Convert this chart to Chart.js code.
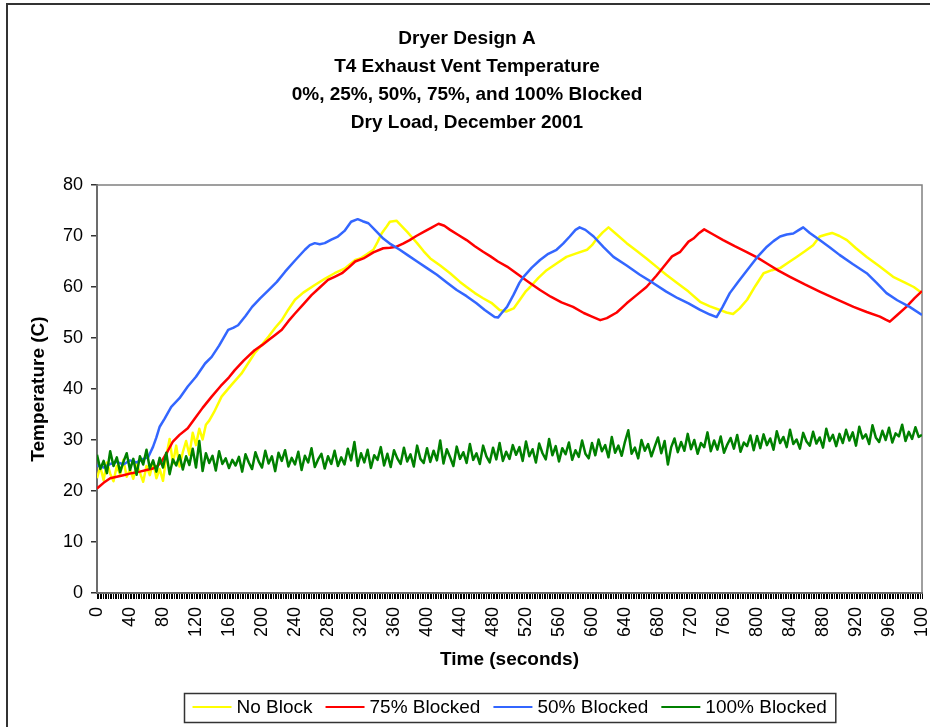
<!DOCTYPE html>
<html><head><meta charset="utf-8">
<script src="https://cdn.jsdelivr.net/npm/chart.js@4"></script>
<style>
html,body{margin:0;padding:0;background:#fff;overflow:hidden;}
#wrap{position:relative;width:930px;height:727px;}
#frame{position:absolute;left:6px;top:3px;width:1000px;height:1000px;border:2px solid #333;box-sizing:border-box;pointer-events:none;}
</style></head><body>
<div id="wrap"><canvas id="c" width="930" height="727"></canvas><div id="frame"></div></div>
<script>
const titleLines = ['Dryer Design A', 'T4 Exhaust Vent Temperature', '0%, 25%, 50%, 75%, and 100% Blocked', 'Dry Load, December 2001'];
const seriesNames = ['No Block', '75% Blocked', '50% Blocked', '100% Blocked'];
const xTickLabels = ['0','40','80','120','160','200','240','280','320','360','400','440','480','520','560','600','640','680','720','760','800','840','880','920','960','100'];

// No Block (yellow)
const timeNoBlock = [0,4,8,12,16,20,24,28,32,36,40,44,48,52,56,60,64,68,72,76,80,84,88,92,96,100,104,108,112,116,120,124,128,132,136,
  142,151,163,175,183,191,200,208,216,224,232,240,250,264,276,288,300,313,319,327,335,340,345,350,355,363,369,376,382,388,396,404,416,428,440,448,458,468,478,488,496,505,513,520,525,535,545,557,569,581,594,600,606,613,620,630,642,654,666,678,690,704,717,731,743,755,763,771,779,788,798,808,818,828,838,848,858,868,876,884,891,900,909,920,933,948,965,980,990,1000];
const tempNoBlock = [22.5,24.8,22.1,25.6,23.4,21.9,24.9,23.2,26.1,22.8,24.2,22.4,25.3,23.6,21.8,24.9,23.1,25.7,22.5,24.3,22.0,26.8,30.2,25.4,28.9,24.8,27.6,29.8,27.1,31.4,29.0,32.2,30.1,33.0,33.8,
  35.5,38.5,40.8,43.0,45.0,47.0,48.7,50.3,52.0,53.5,55.6,57.5,58.9,60.4,61.6,62.7,63.6,65.3,65.6,66.4,67.3,68.8,70.5,71.6,72.8,73.0,72.0,70.8,69.7,68.6,67.0,65.6,64.2,62.7,61.0,60.0,58.8,57.8,56.9,55.5,55.2,55.8,57.6,59.2,60.0,61.8,63.3,64.6,65.9,66.6,67.3,68.2,69.5,70.7,71.7,70.3,68.6,67.1,65.6,64.0,62.4,60.7,59.1,57.1,56.2,55.5,55.0,54.7,55.8,57.5,60.2,62.7,63.3,63.7,64.8,65.9,67.0,68.2,69.9,70.3,70.6,70.0,69.2,67.6,65.9,64.1,62.0,60.8,60.0,58.8];

// 75% Blocked (red)
const time75 = [0,8,16,24,32,42,52,60,68,74,78,85,92,100,110,119,128,139,150,160,167,178,191,200,208,216,224,232,240,250,260,270,280,288,297,305,313,323,335,347,355,363,371,379,387,396,405,414,421,428,438,448,458,468,477,486,497,510,523,537,550,563,577,590,600,610,618,630,642,654,666,678,690,697,707,717,723,730,736,747,759,773,787,800,812,826,840,858,876,896,917,933,949,956,961,970,981,991,1000];
const temp75 = [20.5,21.6,22.5,22.8,23.1,23.5,23.8,24.1,24.4,25.0,25.7,27.6,29.7,31.0,32.3,34.3,36.3,38.5,40.6,42.3,43.7,45.6,47.6,48.6,49.6,50.6,51.6,53.3,54.8,56.6,58.4,59.9,61.4,62.0,62.7,63.8,65.0,65.6,66.8,67.6,67.7,67.9,68.5,69.2,70.0,70.8,71.6,72.4,72.0,71.2,70.2,69.2,68.0,66.9,66.0,65.0,64.0,62.5,61.0,59.4,58.1,57.0,56.1,54.9,54.2,53.5,53.9,55.0,56.8,58.4,60.0,62.2,64.6,66.0,66.9,68.9,69.5,70.6,71.3,70.3,69.2,68.0,66.9,65.8,64.6,63.2,62.0,60.5,59.1,57.6,56.1,55.1,54.2,53.6,53.2,54.5,56.1,57.8,59.2];

// 50% Blocked (blue)
const time50 = [0,8,16,24,32,40,48,56,62,68,72,76,82,90,100,110,120,131,139,148,159,165,171,180,188,198,208,218,228,240,252,258,264,270,276,284,292,300,308,316,322,329,338,347,356,367,377,388,400,412,424,436,448,460,470,482,486,490,497,505,512,517,527,537,547,557,565,573,580,585,592,602,614,626,642,658,674,690,704,717,731,743,751,758,767,777,788,800,812,820,828,836,844,850,856,864,876,888,900,916,933,945,957,970,985,1000];
const temp50 = [25.0,24.6,25.3,25.7,25.2,26.0,25.6,26.3,26.6,28.7,30.5,32.6,34.2,36.5,38.2,40.5,42.4,45.0,46.3,48.5,51.6,52.0,52.5,54.3,56.1,57.8,59.4,61.0,63.0,65.2,67.3,68.2,68.6,68.4,68.6,69.3,69.9,71.0,72.8,73.3,72.9,72.5,71.0,69.5,68.4,67.3,66.2,65.0,63.7,62.4,60.9,59.4,58.2,56.8,55.5,54.1,54.0,54.8,56.1,58.5,60.8,62.0,63.8,65.3,66.5,67.3,68.5,69.9,71.2,71.7,71.2,69.9,67.8,65.9,64.2,62.4,60.8,59.1,57.8,56.8,55.5,54.6,54.1,56.0,58.8,61.0,63.3,65.8,67.9,69.0,69.9,70.3,70.5,71.1,71.7,70.6,69.2,67.8,66.3,64.5,62.7,60.8,58.8,57.4,56.1,54.5];

// 100% Blocked (green)
const time100 = [0,4,8,12,16,20,24,28,32,36,40,44,48,52,56,60,64,68,72,76,80,84,88,92,96,
  100,104,108,112,116,120,124,128,132,136,140,144,148,152,156,160,164,168,172,176,180,184,188,192,196,
  200,204,208,212,216,220,224,228,232,236,240,244,248,252,256,260,264,268,272,276,280,284,288,292,296,
  300,304,308,312,316,320,324,328,332,336,340,344,348,352,356,360,364,368,372,376,380,384,388,392,396,
  400,404,408,412,416,420,424,428,432,436,440,444,448,452,456,460,464,468,472,476,480,484,488,492,496,
  500,504,508,512,516,520,524,528,532,536,540,544,548,552,556,560,564,568,572,576,580,584,588,592,596,
  600,604,608,612,616,620,624,628,632,636,640,644,648,652,656,660,664,668,672,676,680,684,688,692,696,
  700,704,708,712,716,720,724,728,732,736,740,744,748,752,756,760,764,768,772,776,780,784,788,792,796,
  800,804,808,812,816,820,824,828,832,836,840,844,848,852,856,860,864,868,872,876,880,884,888,892,896,
  900,904,908,912,916,920,924,928,932,936,940,944,948,952,956,960,964,968,972,976,980,984,988,992,996,1000];
const temp100 = [27.1,24.3,25.9,23.5,27.8,24.9,26.6,23.7,25.7,27.4,24.1,26.3,23.2,26.8,25.2,28.1,24.4,26.0,23.8,26.5,24.6,27.5,23.3,26.2,25.0,
  27.0,24.2,26.8,25.1,28.3,24.6,29.8,23.9,27.4,25.5,26.9,24.0,27.8,25.3,26.4,24.5,26.1,25.0,26.7,23.8,27.2,25.6,24.3,27.6,25.8,
  24.6,27.9,25.4,26.8,23.9,27.5,25.9,28.0,24.8,26.5,25.2,27.7,24.1,26.9,25.6,28.4,24.7,26.2,27.3,24.4,26.8,25.3,27.9,24.9,26.6,
  25.2,28.3,26.0,29.6,24.9,27.4,25.6,28.1,24.5,27.0,26.1,28.6,25.0,27.3,24.7,28.0,26.4,25.3,28.5,25.8,27.2,24.8,28.9,26.3,25.5,
  28.4,25.7,27.9,26.0,29.9,25.4,28.2,26.6,24.9,28.7,26.3,27.6,25.5,29.2,26.1,27.4,25.3,28.9,26.8,25.6,28.5,26.2,29.4,25.9,27.7,
  26.3,29.0,27.1,28.6,25.9,29.7,26.8,28.2,25.6,29.3,27.4,26.2,30.2,27.0,28.8,25.8,28.4,27.2,29.5,26.1,28.0,26.7,29.9,27.3,26.4,
  29.4,27.0,30.1,27.8,29.0,26.6,30.6,27.5,28.9,26.9,29.7,31.9,27.3,28.5,26.4,30.0,27.9,29.2,26.8,28.7,30.5,27.4,29.8,25.2,28.6,
  30.3,27.6,29.6,27.9,31.2,28.2,30.0,27.3,29.4,28.6,31.5,27.8,29.9,28.1,30.7,27.5,29.1,30.4,28.3,31.0,27.7,29.5,28.8,30.9,28.0,
  30.8,28.4,31.1,29.0,30.3,28.1,31.7,29.4,30.6,28.6,32.0,29.2,30.1,28.3,31.4,29.7,28.9,31.6,29.3,30.5,28.5,32.2,29.8,31.0,28.8,
  31.2,29.4,32.0,29.9,31.5,28.9,32.6,30.3,31.1,29.2,32.9,30.5,29.6,31.8,30.0,32.4,29.5,31.3,30.7,33.0,29.8,31.6,30.2,32.5,30.6,31.0];

const FONT = '"Liberation Sans", Arial, sans-serif';
const pts = (t, v) => t.map((x, i) => ({x: x, y: v[i]}));

const plotFrame = {
  id: 'plotFrame',
  beforeDatasetsDraw(chart) {
    const {ctx, chartArea: a} = chart;
    ctx.save();
    ctx.strokeStyle = '#808080';
    ctx.lineWidth = 1.5;
    ctx.strokeRect(a.left, a.top, a.right - a.left, a.bottom - a.top);
    ctx.restore();
  }
};

const legendBox = {
  id: 'legendBox',
  afterDraw(chart) {
    const ctx = chart.ctx;
    const ds = chart.data.datasets;
    ctx.save();
    ctx.font = '19px ' + FONT;
    const lineLen = 39, gapLT = 5, gapItem = 13, padL = 8, padR = 9, boxH = 29;
    const widths = ds.map(d => ctx.measureText(d.label).width);
    let total = padL + padR;
    widths.forEach((w, i) => { total += lineLen + gapLT + w + (i < widths.length - 1 ? gapItem : 0); });
    const a = chart.chartArea;
    const cx = (a.left + a.right) / 2;
    const cy = chart.height - chart.options.layout.padding.bottom / 2 - 0.5;
    const left = Math.round(cx - total / 2) + 0.5;
    const top = Math.round(cy - boxH / 2) + 0.5;
    ctx.fillStyle = '#fff';
    ctx.fillRect(left, top, total, boxH);
    ctx.strokeStyle = '#333';
    ctx.lineWidth = 1.5;
    ctx.strokeRect(left, top, total, boxH);
    let x = left + padL;
    ctx.textBaseline = 'middle';
    ctx.textAlign = 'left';
    ds.forEach((d, i) => {
      ctx.strokeStyle = d.borderColor;
      ctx.lineWidth = 2;
      ctx.beginPath();
      ctx.moveTo(x, cy);
      ctx.lineTo(x + lineLen, cy);
      ctx.stroke();
      ctx.fillStyle = '#000';
      ctx.fillText(d.label, x + lineLen + gapLT, cy + 1);
      x += lineLen + gapLT + widths[i] + gapItem;
    });
    ctx.restore();
  }
};

new Chart(document.getElementById('c'), {
  type: 'line',
  data: {
    datasets: [
      {label: seriesNames[0], data: pts(timeNoBlock, tempNoBlock), borderColor: '#FFFF00', borderWidth: 2.5, order: 4},
      {label: seriesNames[1], data: pts(time75, temp75), borderColor: '#FF0000', borderWidth: 2.5, order: 3},
      {label: seriesNames[2], data: pts(time50, temp50), borderColor: '#3366FF', borderWidth: 2.5, order: 2},
      {label: seriesNames[3], data: pts(time100, temp100), borderColor: '#008000', borderWidth: 2.5, order: 1}
    ]
  },
  options: {
    responsive: false,
    animation: false,
    events: [],
    layout: {padding: {left: 12, right: 8, top: 0, bottom: 39}},
    elements: {point: {radius: 0}, line: {tension: 0, borderJoinStyle: 'round'}},
    plugins: {
      legend: {display: false},
      tooltip: {enabled: false},
      title: {
        display: true, text: titleLines, color: '#000',
        font: {family: FONT, size: 19, weight: 'bold', lineHeight: 28 / 19},
        padding: {top: 25, bottom: 48}
      }
    },
    scales: {
      x: {
        type: 'linear', min: 0, max: 1000,
        ticks: {
          stepSize: 2, autoSkip: false, minRotation: 90, maxRotation: 90, padding: 8,
          color: '#000', font: {family: FONT, size: 18},
          callback: (v) => (v % 40 === 0 ? xTickLabels[v / 40] : '')
        },
        grid: {drawOnChartArea: false, drawTicks: true, tickLength: 6, color: '#000', lineWidth: 1},
        border: {display: true, color: '#333', width: 2},
        title: {display: true, text: 'Time (seconds)', color: '#000', font: {family: FONT, size: 19, weight: 'bold'}, padding: {top: 0, bottom: 17}},
        afterFit: (s) => { s.height = 95; s.paddingLeft = 0; s.paddingRight = 0; }
      },
      y: {
        min: 0, max: 80,
        ticks: {stepSize: 10, padding: 8, color: '#000', font: {family: FONT, size: 18}},
        grid: {drawOnChartArea: false, drawTicks: true, tickLength: 6, color: '#333', lineWidth: 1.5},
        border: {display: true, color: '#333', width: 2},
        title: {display: true, text: 'Temperature (C)', color: '#000', font: {family: FONT, size: 19, weight: 'bold'}, padding: {top: 15, bottom: 0}},
        afterFit: (s) => { s.width = 85; s.paddingTop = 0; s.paddingBottom = 0; }
      }
    }
  },
  plugins: [plotFrame, legendBox]
});
</script>
</body></html>
